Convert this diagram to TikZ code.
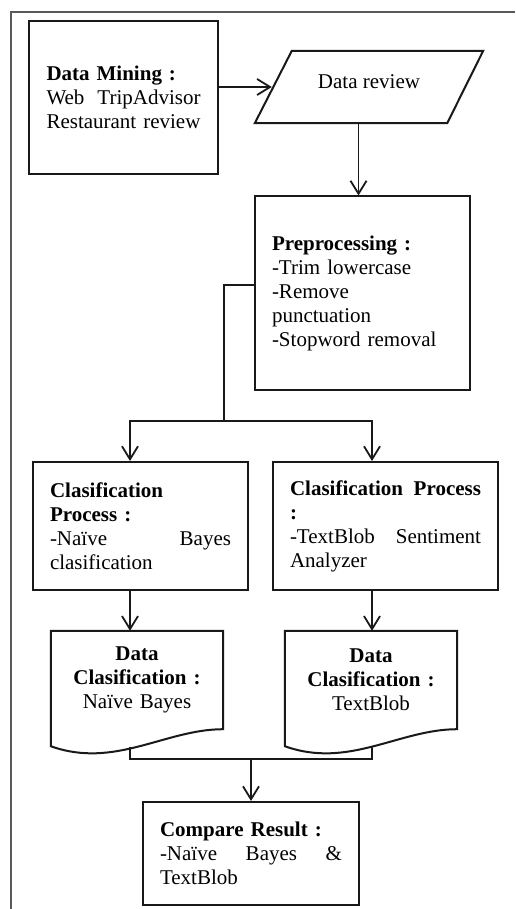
\documentclass[tikz,border=0pt]{standalone}
\usepackage{fontspec}
\setmainfont{Liberation Serif}
\usetikzlibrary{arrows.meta,calc}
\begin{document}
\begin{tikzpicture}[x=1pt,y=-1pt,
  every node/.style={font=\fontsize{21}{24}\selectfont, text=black},
  box/.style={draw=black!90, line width=2pt, rectangle, inner xsep=17pt, inner ysep=0pt, align=left},
  docbody/.style={inner sep=0pt, align=center, minimum width=172pt, text width=172pt, minimum height=98pt},
  outline/.style={draw=black!90, line width=2pt, line join=miter},
  link/.style={draw=black!90, line width=1.8pt},
  arr/.style={link, -{Straight Barb[length=13pt,width=16pt]}},
  frameline/.style={draw=black!65, line width=1.2pt}
]
\useasboundingbox (0,0) rectangle (515,909);

% page frame (top and left rule)
\draw[frameline] (11,909) -- (11,12) -- (515,12);

% process boxes
\node[box, inner xsep=17.5pt, text width=154pt, minimum height=153pt] (dm) at (123.5,97.5)
  {\textbf{Data Mining :}\\\mbox{Web}\hfill\mbox{TripAdvisor}\\\mbox{Restaurant review}};

% input/output parallelogram
\node[inner sep=0pt, minimum width=228pt, minimum height=72pt] (dr) at (369,87) {};
\node at ([yshift=5pt]dr.center) {Data review};
\draw[outline] (dr.south west) -- ($(dr.north west)+(37,0)$) -- (dr.north east)
  -- ($(dr.south east)+(-36,0)$) -- cycle;
\coordinate (drin) at ($(dr.west)+(17,0)$);

\node[box, text width=181pt, minimum height=193pt] (pre) at (362.5,293)
  {\textbf{Preprocessing :}\\-Trim lowercase\\-Remove\\punctuation\\\mbox{-Stopword removal}};

\node[box, text width=181pt, minimum height=128pt] (cp1) at (140.5,526)
  {\textbf{Clasification}\\\textbf{Process :}\\-Naïve\hfill Bayes\\clasification};

\node[box, text width=191pt, minimum height=128pt] (cp2) at (385.5,526)
  {\textbf{Clasification\hfill Process}\\\textbf{:}\\-TextBlob\hfill Sentiment\\Analyzer};

% document shapes
\node[docbody] (d1) at (137,680)
  {\textbf{Data}\\\textbf{Clasification :}\\Naïve Bayes};
\node[docbody] (d2) at (371,680)
  {\textbf{Data}\\\textbf{Clasification :}\\TextBlob};
\foreach \d in {d1,d2}{
  \draw[outline] ($(\d.south west)+(0,17)$) -- (\d.north west) -- (\d.north east) -- (\d.south east)
    .. controls +(-58,0) and +(64,23) .. ($(\d.south west)+(0,17)$) -- cycle;
}

\node[box, text width=182pt, minimum height=103pt] (cmp) at (251,853.5)
  {\textbf{Compare Result :}\\-Naïve\hfill Bayes\hfill \&\\TextBlob};

% column guides and junctions
\coordinate (colL) at (130,0);
\coordinate (colR) at (372,0);
\coordinate (split) at (224,421);
\coordinate (join) at (251,759);

% connectors
\draw[arr] (dm.east |- drin) -- (drin);
\draw[arr] ([xshift=-4pt]pre.north |- dr.south) -- ([xshift=-4pt]pre.north);
\draw[link] ([yshift=8pt]pre.west) -| (split);
\draw[arr] (split) -| (cp1.north -| colL);
\draw[arr] (split) -| (cp2.north -| colR);
\draw[arr] (cp1.south -| colL) -- (d1.north -| colL);
\draw[arr] (cp2.south -| colR) -- (d2.north -| colR);
\draw[link] ($(d1.south -| colL)+(0,18)$) |- (join) -| ($(d2.south -| colR)+(0,17)$);
\draw[arr] (join) -- (cmp.north);
\end{tikzpicture}
\end{document}
